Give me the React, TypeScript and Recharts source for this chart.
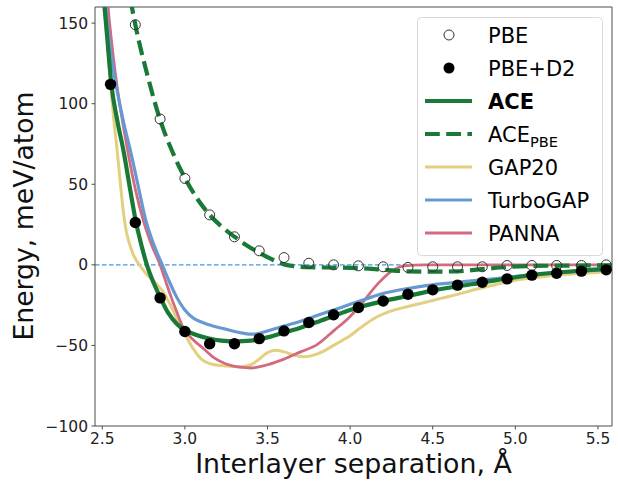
import React from "react";
import {
  ComposedChart,
  Line,
  Scatter,
  XAxis,
  YAxis,
  ReferenceLine,
  Legend,
  Label,
} from "recharts";

// DFT reference points (interlayer separation, Å)
const dftX = [2.55, 2.7, 2.85, 3.0, 3.15, 3.3, 3.45, 3.6, 3.75, 3.9, 4.05, 4.2, 4.35, 4.5, 4.65, 4.8, 4.95, 5.1, 5.25, 5.4, 5.55];
const pbeE = [null, 149, 90.5, 53.6, 31, 17.4, 8.7, 4.5, 1, 0, -0.6, -1.2, -1.6, -1.2, -1.2, -1.2, -0.4, -0.4, -0.4, -0.4, 0];
const d2E = [112, 26.3, -20.5, -41.4, -49, -49, -45.8, -41, -35.8, -31, -26.5, -22.4, -18.2, -15.5, -12.6, -10.8, -8.7, -6.4, -5.2, -3.9, -3.1];

// ACE (solid green)
const aceX = [2.5, 2.53, 2.555, 2.59, 2.63, 2.67, 2.705, 2.74, 2.77, 2.81, 2.85, 2.9, 2.95, 3.0, 3.07, 3.14, 3.22, 3.3, 3.4, 3.5, 3.6, 3.7, 3.8, 3.9, 4.0, 4.1, 4.2, 4.35, 4.5, 4.65, 4.8, 4.95, 5.1, 5.25, 5.4, 5.585];
const aceE = [176, 141, 112, 90, 70, 46, 26, 11, 0, -11, -20, -30, -36.5, -40.5, -43.5, -45.5, -47, -47.5, -47, -45, -42, -39, -35.5, -31.7, -28, -25, -22.5, -19.3, -16, -13.3, -11, -8.5, -6.3, -4.8, -3.5, -2.3];

// ACE_PBE (dashed green)
const acePbeX = [2.67, 2.7, 2.775, 2.85, 2.925, 3.0, 3.075, 3.15, 3.225, 3.3, 3.375, 3.45, 3.525, 3.6, 3.675, 3.75, 3.9, 4.05, 4.2, 4.35, 4.5, 4.65, 4.8, 4.95, 5.1, 5.25, 5.4, 5.585];
const acePbeE = [165, 149, 117, 90, 70, 54, 41, 31, 23.5, 17.5, 12, 7.5, 3.5, 0.3, -1, -1.5, -1.7, -2, -3, -4, -4.2, -4, -2.7, -1.3, -0.7, -0.5, -0.4, -0.3];

// GAP20 (yellow)
const gapX = [2.5, 2.525, 2.55, 2.57, 2.59, 2.61, 2.63, 2.645, 2.665, 2.685, 2.705, 2.725, 2.765, 2.8, 2.83, 2.87, 2.91, 2.95, 3.0, 3.05, 3.1, 3.17, 3.25, 3.33, 3.4, 3.45, 3.5, 3.55, 3.6, 3.66, 3.72, 3.78, 3.84, 3.9, 3.95, 4.0, 4.07, 4.15, 4.25, 4.35, 4.45, 4.55, 4.65, 4.75, 4.85, 5.0, 5.15, 5.3, 5.45, 5.585];
const gapE = [172, 145, 113, 90, 71, 50, 31, 21, 13, 7, 3, 0, -5.5, -9, -12, -17, -24.4, -33, -43, -52, -58.5, -61.8, -62.8, -63.3, -62, -58.5, -54.5, -53, -54, -56, -57, -56, -53.5, -50, -47, -44, -38.5, -33, -28.6, -25.8, -23.4, -20.8, -18.3, -15.5, -13, -9.5, -7.5, -6, -5, -4.2];

// TurboGAP (blue)
const turboX = [2.5, 2.522, 2.55, 2.583, 2.63, 2.67, 2.715, 2.76, 2.81, 2.863, 2.9, 2.94, 3.0, 3.05, 3.1, 3.17, 3.25, 3.33, 3.4, 3.45, 3.5, 3.6, 3.7, 3.8, 3.9, 4.0, 4.1, 4.21, 4.33, 4.45, 4.6, 4.75, 4.9, 5.05, 5.2, 5.35, 5.5, 5.585];
const turboE = [190, 160, 133, 112, 88, 71, 50, 29, 13, 0, -9, -18, -28, -33, -35.5, -38, -40, -42, -43, -42.5, -41, -38, -35, -31.5, -28, -24.5, -21, -17.5, -15, -13, -11.3, -9.8, -8.3, -6.6, -5.3, -4.2, -3.3, -2.9];

// PANNA (red)
const pannaX = [2.5, 2.535, 2.58, 2.65, 2.7, 2.75, 2.8, 2.85, 2.88, 2.91, 2.95, 2.99, 3.05, 3.105, 3.175, 3.25, 3.33, 3.4, 3.5, 3.6, 3.7, 3.8, 3.9, 4.0, 4.07, 4.17, 4.25, 4.33, 4.45, 5.585];
const pannaE = [205, 160, 118, 73, 47, 27, 12, 0, -9, -18, -29, -39, -46.5, -51.3, -57.6, -61.5, -63.5, -64, -62, -58.5, -54, -49.5, -41, -32, -24, -11.5, -4, -0.6, 0, 0];

const xTicks = [2.5, 3.0, 3.5, 4.0, 4.5, 5.0, 5.5];
const yTicks = [-100, -50, 0, 50, 100, 150];

const toPts = (xs: number[], ys: (number | null)[]) =>
  xs
    .map((x, i) => ({ x, y: ys[i] }))
    .filter((p) => p.y !== null && p.y !== undefined);

const pbeData = toPts(dftX, pbeE);
const d2Data = toPts(dftX, d2E);
const aceData = toPts(aceX, aceE);
const acePbeData = toPts(acePbeX, acePbeE);
const gapData = toPts(gapX, gapE);
const turboData = toPts(turboX, turboE);
const pannaData = toPts(pannaX, pannaE);

const FONT = "'DejaVu Sans', sans-serif";
const GREEN = "#187a36";
const YELLOW = "#e2cf80";
const BLUE = "#6898d2";
const RED = "#d36b7e";
const ZERO = "#4598de";
const SPINE = "#4d4d4d";

const fmtY = (v: number) => (v < 0 ? "\u2212" + Math.abs(v) : String(v));
const fmtX = (v: number) => v.toFixed(1);

const OpenDot = (p: any) => (
  <circle cx={p.cx} cy={p.cy} r={5} fill="none" stroke="#333" strokeWidth={1} />
);
const FilledDot = (p: any) => <circle cx={p.cx} cy={p.cy} r={5.7} fill="#000" />;

const legendRows = [
  { name: "PBE", kind: "open" },
  { name: "PBE+D2", kind: "filled" },
  { name: "ACE", kind: "line", color: GREEN, width: 4.2, bold: true },
  { name: "ACE", sub: "PBE", kind: "dash", color: GREEN, width: 4.2 },
  { name: "GAP20", kind: "line", color: YELLOW, width: 3 },
  { name: "TurboGAP", kind: "line", color: BLUE, width: 3.2 },
  { name: "PANNA", kind: "line", color: RED, width: 2.8 },
];

const LegendBox = () => (
  <svg width={186} height={239} style={{ display: "block" }}>
    <rect x={0.5} y={0.5} width={185} height={238} rx={4} fill="#fff" fillOpacity={0.8} stroke="#d9d9d9" strokeWidth={1} />
    {legendRows.map((r, i) => {
      const cy = 18 + i * 33;
      let handle: React.ReactNode = null;
      if (r.kind === "open") handle = <circle cx={32} cy={cy} r={5} fill="none" stroke="#333" strokeWidth={1} />;
      else if (r.kind === "filled") handle = <circle cx={32} cy={cy} r={5.5} fill="#000" />;
      else
        handle = (
          <line x1={8} x2={55} y1={cy} y2={cy} stroke={r.color} strokeWidth={r.width} strokeDasharray={r.kind === "dash" ? "14.8 6.4" : undefined} />
        );
      return (
        <g key={i}>
          {handle}
          <text x={71} y={cy + 7.6} fontFamily={FONT} fontSize={21} fill="#000" fontWeight={r.bold ? "bold" : "normal"}>
            {r.name}
            {r.sub ? (
              <tspan fontSize={14.6} dy={5}>
                {r.sub}
              </tspan>
            ) : null}
          </text>
        </g>
      );
    })}
  </svg>
);

export default function App() {
  return (
    <div style={{ position: "absolute", left: 0, top: 0, width: 618, height: 481, background: "#fff" }}>
      <ComposedChart width={618} height={481} margin={{ top: 7, right: 6, bottom: 0, left: 0 }}>
        <XAxis
          dataKey="x"
          type="number"
          domain={[2.456, 5.585]}
          ticks={xTicks}
          tickFormatter={fmtX}
          allowDataOverflow
          height={55}
          stroke={SPINE}
          tickSize={3.5}
          tickMargin={3.5}
          tick={{ fontFamily: FONT, fontSize: 15.5, fill: "#222" }}
        >
          <Label
            content={() => (
              <text x={353.5} y={473} textAnchor="middle" fontFamily={FONT} fontSize={26.8} fill="#111">
                Interlayer separation, Å
              </text>
            )}
          />
        </XAxis>
        <YAxis
          type="number"
          domain={[-100, 160]}
          ticks={yTicks}
          tickFormatter={fmtY}
          allowDataOverflow
          width={95}
          stroke={SPINE}
          tickSize={3.5}
          tickMargin={3.5}
          tick={{ fontFamily: FONT, fontSize: 15.5, fill: "#222" }}
        >
          <Label
            content={() => (
              <text x={33} y={216} transform="rotate(-90, 33, 216)" textAnchor="middle" fontFamily={FONT} fontSize={26.7} fill="#111">
                Energy, meV/atom
              </text>
            )}
          />
        </YAxis>
        <ReferenceLine y={160} stroke={SPINE} strokeWidth={1} />
        <ReferenceLine x={5.585} stroke={SPINE} strokeWidth={1} />
        <ReferenceLine y={0} stroke={ZERO} strokeWidth={1.1} strokeDasharray="4.5 2.5" />
        <Line data={gapData} dataKey="y" type="monotone" stroke={YELLOW} strokeWidth={3} dot={false} activeDot={false} isAnimationActive={false} />
        <Line data={pannaData} dataKey="y" type="monotone" stroke={RED} strokeWidth={2.8} dot={false} activeDot={false} isAnimationActive={false} />
        <Line data={turboData} dataKey="y" type="monotone" stroke={BLUE} strokeWidth={3.2} dot={false} activeDot={false} isAnimationActive={false} />
        <Line data={aceData} dataKey="y" type="monotone" stroke={GREEN} strokeWidth={4.2} dot={false} activeDot={false} isAnimationActive={false} />
        <Line data={acePbeData} dataKey="y" type="monotone" stroke={GREEN} strokeWidth={4.2} strokeDasharray="14.8 6.4" dot={false} activeDot={false} isAnimationActive={false} />
        <Scatter data={pbeData} dataKey="y" shape={OpenDot} isAnimationActive={false} />
        <Scatter data={d2Data} dataKey="y" shape={FilledDot} isAnimationActive={false} />
        <Legend
          layout="vertical"
          align="center"
          verticalAlign="middle"
          content={() => <LegendBox />}
          wrapperStyle={{ left: 417, top: 17, width: 186, height: 239 }}
        />
      </ComposedChart>
    </div>
  );
}
